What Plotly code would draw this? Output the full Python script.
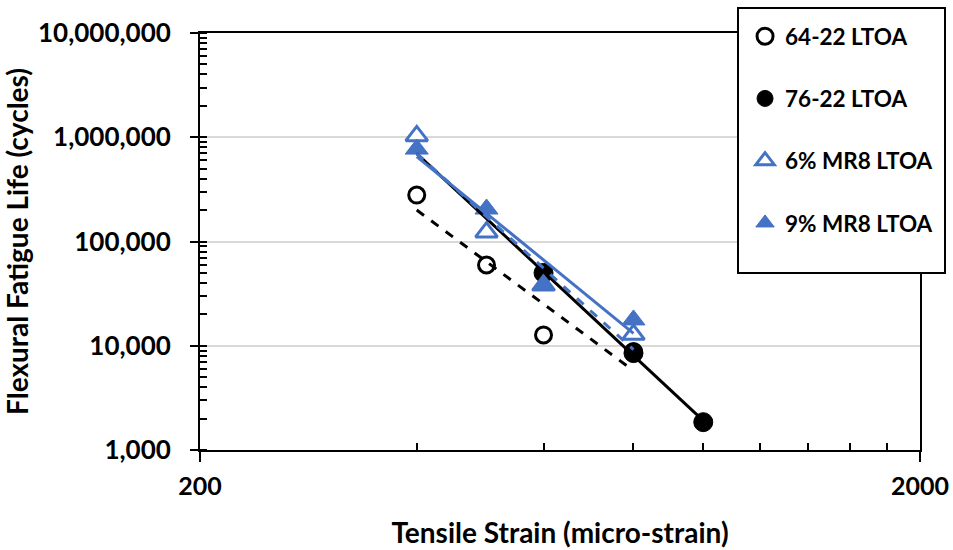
import numpy as np
import plotly.graph_objects as go

# ---- data ----
strain_64 = [400, 500, 600, 800]
life_64 = [279000, 59500, 12700, 8800]

strain_76 = [600, 800, 1000]
life_76 = [50000, 8500, 1850]

strain_6 = [400, 500, 600, 800]
life_6 = [1030000, 123000, 38000, 12800]

strain_9 = [400, 500, 600, 800]
life_9 = [770000, 205000, 38000, 17700]

names = ["64-22 LTOA", "76-22 LTOA", "6% MR8 LTOA", "9% MR8 LTOA"]
x_ticks = [200, 2000]
x_minor = [400, 600, 800, 1000, 1200, 1400, 1600, 1800]
y_ticks = [1000, 10000, 100000, 1000000, 10000000]
y_ticktext = ["1,000", "10,000", "100,000", "1,000,000", "10,000,000"]

BLUE = "#4472C4"
FONT = "Lato"

series = [
    (strain_64, life_64, dict(symbol="circle", size=16, color="white", line=dict(color="black", width=3)), dict(color="black", width=3, dash="dash")),
    (strain_76, life_76, dict(symbol="circle", size=19, color="black", line=dict(color="black", width=1)), dict(color="black", width=3, dash="solid")),
    (strain_6, life_6, dict(symbol="triangle-up", size=19, color="white", line=dict(color=BLUE, width=3)), dict(color=BLUE, width=3, dash="dash")),
    (strain_9, life_9, dict(symbol="triangle-up", size=20, color=BLUE, line=dict(color=BLUE, width=1)), dict(color=BLUE, width=3, dash="solid")),
]
all_strain = strain_64 + strain_76 + strain_6 + strain_9

fig = go.Figure()
for i, (xs, ys, mk, ln) in enumerate(series):
    fig.add_trace(go.Scatter(x=xs, y=ys, mode="markers", name=names[i], marker=mk,
                             legendgroup=names[i], showlegend=True))

# power-law trendlines (least squares in log space), drawn over the markers;
# the 76-22 line is forecast back to the lowest strain tested
for i, (xs, ys, mk, ln) in enumerate(series):
    lx, ly = np.log10(xs), np.log10(ys)
    b, a = np.polyfit(lx, ly, 1)
    lo = min(all_strain) if i == 1 else min(xs)
    ex = np.array([lo, max(xs)], dtype=float)
    ey = 10 ** (a + b * np.log10(ex))
    fig.add_trace(go.Scatter(x=ex, y=ey, mode="lines", line=ln, showlegend=False,
                             hoverinfo="skip"))

fig.update_layout(
    width=953, height=550,
    margin=dict(l=200, r=33, t=33, b=100, autoexpand=False),
    paper_bgcolor="white", plot_bgcolor="white",
    font=dict(family=FONT, color="black", size=22, weight="bold"),
    legend=dict(x=0.757, y=1.043, xanchor="left", yanchor="top",
                bgcolor="rgba(0,0,0,0)", borderwidth=0,
                tracegroupgap=30, font=dict(size=22.5, family=FONT, weight="bold"),
                itemsizing="trace"),
    shapes=[dict(type="rect", xref="paper", yref="paper",
                 x0=(738 - 200) / 720, x1=(945 - 200) / 720,
                 y0=(450 - 273) / 417, y1=(450 - 8) / 417,
                 line=dict(color="black", width=2), fillcolor="white", layer="above")],
)

fig.update_xaxes(
    type="log", range=[np.log10(200), np.log10(2000)],
    tickvals=x_ticks, ticktext=[str(v) for v in x_ticks],
    ticks="outside", ticklen=10, tickwidth=2, tickcolor="black",
    ticklabelstandoff=3, automargin=False,
    minor=dict(tickvals=x_minor, ticks="inside", ticklen=7, tickwidth=2, tickcolor="black", showgrid=False),
    showline=True, linewidth=2, linecolor="black", mirror=True,
    showgrid=False, zeroline=False,
    tickfont=dict(size=25, family=FONT, weight="bold"),
    title=dict(text="Tensile Strain (micro-strain)", standoff=24,
               font=dict(size=28, family=FONT, weight="bold")),
)
fig.update_yaxes(
    type="log", range=[3, 7],
    tickvals=y_ticks, ticktext=y_ticktext,
    ticks="outside", ticklen=8, tickwidth=2, tickcolor="black",
    ticklabelstandoff=14, automargin=False,
    minor=dict(dtick="D1", ticks="inside", ticklen=7, tickwidth=2, tickcolor="black", showgrid=False),
    showline=True, linewidth=2, linecolor="black", mirror=True,
    showgrid=True, gridcolor="#d9d9d9", gridwidth=2, zeroline=False,
    tickfont=dict(size=26, family=FONT, weight="bold"),
    title=dict(text="Flexural Fatigue Life (cycles)", standoff=2,
               font=dict(size=28, family=FONT, weight="bold")),
)

fig.write_html("out.html")
